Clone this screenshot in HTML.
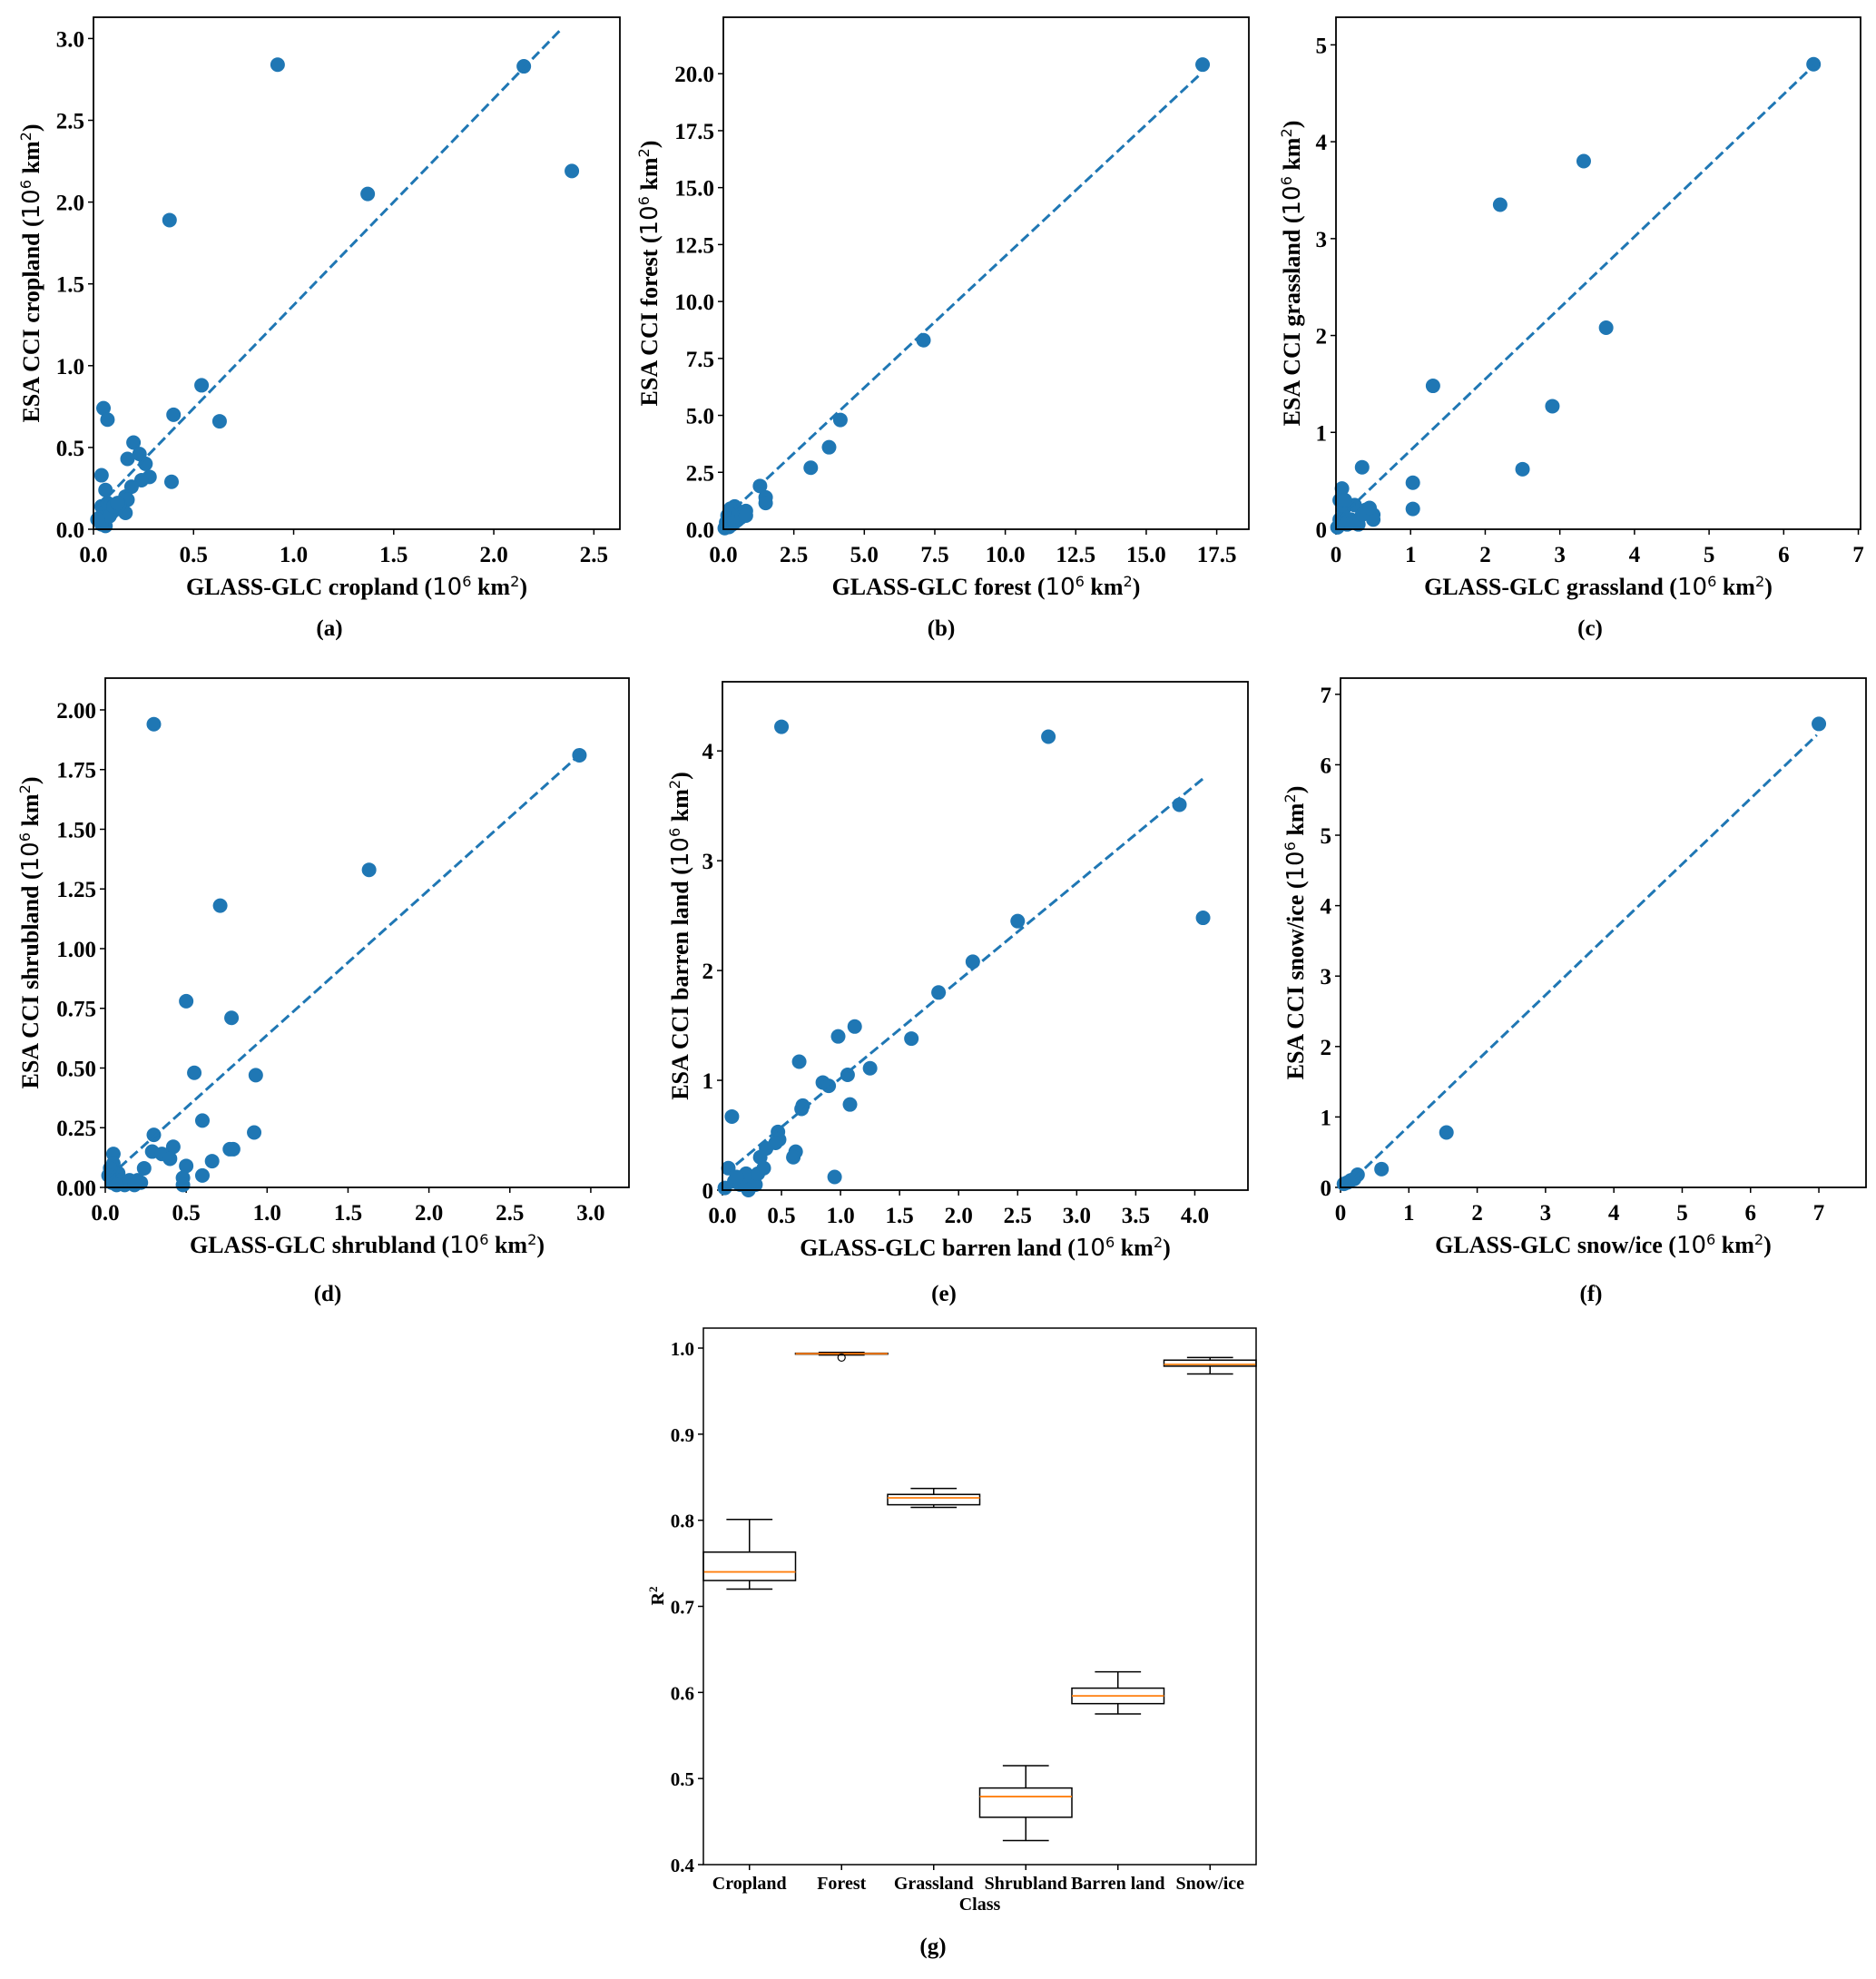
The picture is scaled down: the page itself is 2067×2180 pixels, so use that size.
<!DOCTYPE html>
<html><head><meta charset="utf-8">
<style>
html,body{margin:0;padding:0;background:#fff;}
svg{display:block;}
text{font-family:"Liberation Serif",serif;font-weight:bold;fill:#000;}
.sup{font-family:"DejaVu Sans",sans-serif;font-weight:normal;}
</style></head>
<body>
<svg id="fig" width="2067" height="2180" viewBox="0 0 2067 2180" xmlns="http://www.w3.org/2000/svg"></svg>
<script>
// ---- Data ----
const aX=[0.92,2.15,2.39,1.37,0.38,0.54,0.40,0.63,0.05,0.07,0.20,0.23,0.17,0.26,0.04,0.28,0.24,0.39,0.19,0.06,0.16,0.17,0.16,0.13,0.11,0.09,0.04,0.07,0.03,0.05,0.06,0.04,0.08,0.10,0.12,0.02];
const aY=[2.84,2.83,2.19,2.05,1.89,0.88,0.70,0.66,0.74,0.67,0.53,0.46,0.43,0.40,0.33,0.32,0.30,0.29,0.26,0.24,0.20,0.18,0.10,0.15,0.12,0.10,0.14,0.16,0.07,0.05,0.02,0.03,0.08,0.14,0.16,0.06];
const aFit=[0.108,1.262,0.02,2.34];
const bX=[17.0,7.1,4.15,3.75,3.1,1.3,1.5,1.5,0.4,0.3,0.8,0.6,0.2,0.5,0.1,0.3,0.7,0.2,0.05,0.4,0.6,0.15,0.25,0.8];
const bY=[20.4,8.3,4.8,3.6,2.7,1.9,1.4,1.15,1.0,0.8,0.8,0.6,0.5,0.4,0.3,0.2,0.7,0.1,0.05,0.3,0.5,0.6,0.9,0.6];
const bFit=[0.44,1.155,0.02,16.96];
const cX=[6.4,3.32,2.2,3.62,1.3,2.9,2.5,1.03,1.03,0.35,0.08,0.05,0.25,0.4,0.5,0.5,0.1,0.2,0.3,0.15,0.05,0.35,0.02,0.12,0.45];
const cY=[4.8,3.8,3.35,2.08,1.48,1.27,0.62,0.48,0.21,0.64,0.42,0.3,0.25,0.2,0.15,0.1,0.2,0.1,0.05,0.05,0.1,0.15,0.02,0.3,0.22];
const cFit=[0.08,0.735,0.02,6.41];
const dX=[0.3,2.93,1.63,0.71,0.5,0.78,0.55,0.93,0.6,0.92,0.3,0.79,0.77,0.42,0.29,0.35,0.4,0.5,0.66,0.24,0.48,0.6,0.48,0.05,0.05,0.08,0.03,0.1,0.15,0.2,0.22,0.12,0.04,0.02,0.07,0.18];
const dY=[1.94,1.81,1.33,1.18,0.78,0.71,0.48,0.47,0.28,0.23,0.22,0.16,0.16,0.17,0.15,0.14,0.12,0.09,0.11,0.08,0.04,0.05,0.01,0.14,0.1,0.06,0.08,0.03,0.03,0.03,0.02,0.01,0.02,0.05,0.01,0.01];
const dFit=[0.03,0.608,0.02,2.94];
const eX=[0.5,2.76,3.87,4.07,2.5,2.12,1.83,1.12,0.98,1.6,0.65,1.25,1.06,0.85,0.9,0.68,1.08,0.67,0.08,0.47,0.48,0.45,0.37,0.32,0.62,0.6,0.35,0.95,0.05,0.2,0.25,0.1,0.15,0.28,0.02,0.22,0.12,0.3];
const eY=[4.22,4.13,3.51,2.48,2.45,2.08,1.8,1.49,1.4,1.38,1.17,1.11,1.05,0.98,0.95,0.77,0.78,0.74,0.67,0.53,0.46,0.43,0.38,0.3,0.35,0.3,0.2,0.12,0.2,0.15,0.1,0.08,0.05,0.05,0.02,0.0,0.12,0.15];
const eFit=[0.13,0.889,0.02,4.07];
const fX=[7.0,1.55,0.6,0.25,0.2,0.15,0.1,0.05];
const fY=[6.58,0.78,0.26,0.18,0.12,0.1,0.07,0.05];
const fFit=[-0.06,0.93,0.05,6.97];
const gCats=["Cropland","Forest","Grassland","Shrubland","Barren land","Snow/ice"];
const gLo=[0.72,0.992,0.815,0.428,0.575,0.970];
const gQ1=[0.730,0.993,0.818,0.455,0.587,0.979];
const gMed=[0.740,0.9935,0.826,0.479,0.596,0.981];
const gQ3=[0.763,0.994,0.830,0.489,0.605,0.986];
const gHi=[0.801,0.995,0.837,0.515,0.624,0.989];
const gOutCat=[1];
const gOutVal=[0.989];
const gYTicks=[0.4,0.5,0.6,0.7,0.8,0.9,1.0];

const NS="http://www.w3.org/2000/svg";
const svg=document.getElementById('fig');
function el(tag,attrs,parent){const e=document.createElementNS(NS,tag);for(const k in attrs)e.setAttribute(k,attrs[k]);(parent||svg).appendChild(e);return e;}
function unitLabel(t,prefix){
  const s1=el('tspan',{},t);s1.textContent=prefix+' (';
  const s2=el('tspan',{class:'sup'},t);s2.textContent='10';
  const s3=el('tspan',{class:'sup','baseline-shift':'super','font-size':'0.62em'},t);s3.textContent='6';
  const s4=el('tspan',{},t);s4.textContent=' km';
  const s5=el('tspan',{class:'sup','baseline-shift':'super','font-size':'0.62em'},t);s5.textContent='2';
  const s6=el('tspan',{},t);s6.textContent=')';
}
function range(a,b,s){const r=[];for(let v=a;v<=b+1e-9;v+=s)r.push(+v.toFixed(4));return r;}

function scatter(o){
  const g=el('g',{});
  
  
  const F=o.frame;
  const sx=v=>F.l+(v-0)/(o.xmax)*(F.r-F.l);
  const sy=v=>F.b-(v-0)/(o.ymax)*(F.b-F.t);
  o.xt.forEach(v=>{
    const x=sx(v);
    const tk=el('line',{x1:x,x2:x,y1:F.b,y2:F.b+6,stroke:'#000','stroke-width':1.5},g);
    
    const t=el('text',{x:x,y:F.b+36,'font-size':25,'text-anchor':'middle'},g);
    
    t.textContent=v.toFixed(o.xd);
  });
  o.yt.forEach(v=>{
    const y=sy(v);
    const tk=el('line',{x1:F.l-6,x2:F.l,y1:y,y2:y,stroke:'#000','stroke-width':1.5},g);
    
    const t=el('text',{x:F.l-10,y:y+9,'font-size':25,'text-anchor':'end'},g);
    
    t.textContent=v.toFixed(o.yd);
  });
  o.xs.forEach((xv,i)=>{
    const c=el('circle',{cx:sx(xv),cy:sy(o.ys[i]),r:8,fill:'#1f77b4'},g);
    
    
  });
  const f=o.fit;
  const ln=el('line',{x1:sx(f[2]),y1:sy(f[0]+f[1]*f[2]),x2:sx(f[3]),y2:sy(f[0]+f[1]*f[3]),stroke:'#1f77b4','stroke-width':3,'stroke-dasharray':'11,5'},g);
  
  
  const fr=el('rect',{x:F.l,y:F.t,width:F.r-F.l,height:F.b-F.t,fill:'none',stroke:'#000','stroke-width':1.8},g);
  
  
  const xl=el('text',{x:(F.l+F.r)/2,y:F.b+72,'font-size':26,'text-anchor':'middle'},g);
  
  
  unitLabel(xl,'GLASS-GLC '+o.cls);
  const cy=(F.t+F.b)/2, cx=F.l-o.yoff;
  const yl=el('text',{x:cx,y:cy,'font-size':26,'text-anchor':'middle',transform:`rotate(-90 ${cx} ${cy})`,dy:9},g);
  
  
  unitLabel(yl,'ESA CCI '+o.cls);
  const cap=el('text',{x:o.capx,y:o.capy,'font-size':25,'text-anchor':'middle'},g);
  
  
  cap.textContent=o.cap;
}

scatter({name:'panel-a-cropland',cls:'cropland',frame:{l:103,t:19,r:683,b:583},xmax:2.63,ymax:3.13,xt:range(0,2.5,0.5),yt:range(0,3,0.5),xd:1,yd:1,xs:aX,ys:aY,fit:aFit,yoff:69,cap:'(a)',capx:363,capy:700});
scatter({name:'panel-b-forest',cls:'forest',frame:{l:797,t:19,r:1376,b:583},xmax:18.64,ymax:22.48,xt:range(0,17.5,2.5),yt:range(0,20,2.5),xd:1,yd:1,xs:bX,ys:bY,fit:bFit,yoff:82,cap:'(b)',capx:1037,capy:700});
scatter({name:'panel-c-grassland',cls:'grassland',frame:{l:1472,t:19,r:2050,b:583},xmax:7.03,ymax:5.285,xt:range(0,7,1),yt:range(0,5,1),xd:0,yd:0,xs:cX,ys:cY,fit:cFit,yoff:49,cap:'(c)',capx:1752,capy:700});
scatter({name:'panel-d-shrubland',cls:'shrubland',frame:{l:116,t:747,r:693,b:1308},xmax:3.236,ymax:2.133,xt:range(0,3,0.5),yt:range(0,2,0.25),xd:1,yd:2,xs:dX,ys:dY,fit:dFit,yoff:83,cap:'(d)',capx:361,capy:1433});
scatter({name:'panel-e-barren-land',cls:'barren land',frame:{l:796,t:751,r:1375,b:1311},xmax:4.45,ymax:4.63,xt:range(0,4,0.5),yt:range(0,4,1),xd:1,yd:0,xs:eX,ys:eY,fit:eFit,yoff:47,cap:'(e)',capx:1040,capy:1433});
scatter({name:'panel-f-snow-ice',cls:'snow/ice',frame:{l:1477,t:747,r:2056,b:1308},xmax:7.69,ymax:7.23,xt:range(0,7,1),yt:range(0,7,1),xd:0,yd:0,xs:fX,ys:fY,fit:fFit,yoff:50,cap:'(f)',capx:1753,capy:1433});

// ---- Box plot (g) ----
(function(){
  const g=el('g',{});
  
  
  const F={l:775,t:1463,r:1384,b:2054};
  const ymin=0.4,ymax=1.0232;
  const sx=i=>F.l+(i+1-0.5)/6*(F.r-F.l);
  const sy=v=>F.b-(v-ymin)/(ymax-ymin)*(F.b-F.t);
  const bw=(F.r-F.l)/6*0.5;
  gYTicks.forEach(v=>{
    const y=sy(v);
    const tk=el('line',{x1:F.l-6,x2:F.l,y1:y,y2:y,stroke:'#000','stroke-width':1.5},g);
    
    const t=el('text',{x:F.l-10,y:y+8,'font-size':21,'text-anchor':'end'},g);
    
    t.textContent=v.toFixed(1);
  });
  gCats.forEach((c,i)=>{
    const x=sx(i);
    const tk=el('line',{x1:x,x2:x,y1:F.b,y2:F.b+6,stroke:'#000','stroke-width':1.5},g);
    
    const t=el('text',{x:x,y:F.b+27,'font-size':20,'text-anchor':'middle'},g);
    
    t.textContent=c;
    const w1=el('line',{x1:x,x2:x,y1:sy(gLo[i]),y2:sy(gQ1[i]),stroke:'#000','stroke-width':1.5},g);
    
    const w2=el('line',{x1:x,x2:x,y1:sy(gQ3[i]),y2:sy(gHi[i]),stroke:'#000','stroke-width':1.5},g);
    
    const c1=el('line',{x1:x-bw/2,x2:x+bw/2,y1:sy(gLo[i]),y2:sy(gLo[i]),stroke:'#000','stroke-width':1.5},g);
    
    const c2=el('line',{x1:x-bw/2,x2:x+bw/2,y1:sy(gHi[i]),y2:sy(gHi[i]),stroke:'#000','stroke-width':1.5},g);
    
    const b=el('rect',{x:x-bw,y:sy(gQ3[i]),width:2*bw,height:Math.max(1,sy(gQ1[i])-sy(gQ3[i])),fill:'#fff',stroke:'#000','stroke-width':1.5},g);
    
    
    const m=el('line',{x1:x-bw,x2:x+bw,y1:sy(gMed[i]),y2:sy(gMed[i]),stroke:'#ff7f0e','stroke-width':1.8},g);
    
  });
  gOutCat.forEach((ci,k)=>{
    const o=el('circle',{cx:sx(ci),cy:sy(gOutVal[k]),r:4,fill:'none',stroke:'#000','stroke-width':1.2},g);
    
  });
  const fr=el('rect',{x:F.l,y:F.t,width:F.r-F.l,height:F.b-F.t,fill:'none',stroke:'#000','stroke-width':1.5},g);
  
  const xl=el('text',{x:(F.l+F.r)/2,y:2104,'font-size':20,'text-anchor':'middle'},g);
  
  xl.textContent='Class';
  const yl=el('text',{x:0,y:0,'font-size':20,'text-anchor':'middle',transform:'translate(731 1758) rotate(-90)'},g);
  
  const r1=el('tspan',{},yl);r1.textContent='R';
  const r2=el('tspan',{'baseline-shift':'super','font-size':'0.65em'},yl);r2.textContent='2';
  const cap=el('text',{x:1028,y:2152,'font-size':25,'text-anchor':'middle'},g);
  
  cap.textContent='(g)';
})();
</script>
</body></html>
